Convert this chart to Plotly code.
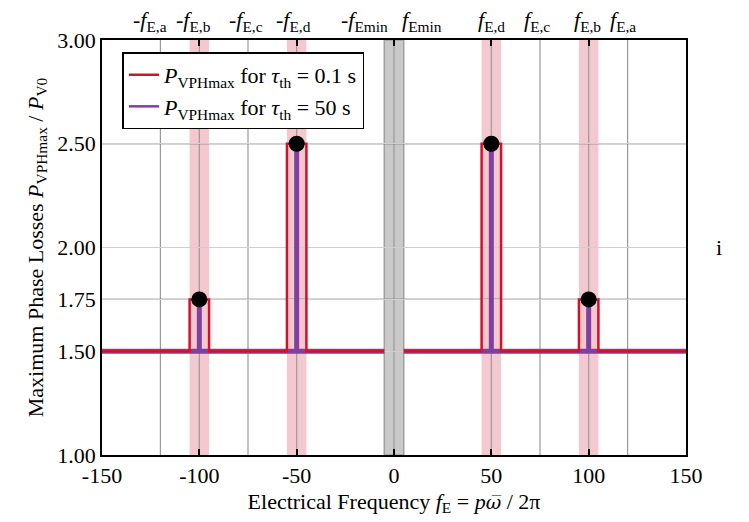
import plotly.graph_objects as go

# ---- data ----
peak_freqs = [-100, -50, 50, 100]          # electrical frequencies of the loss peaks
peak_values = [1.75, 2.50, 2.50, 1.75]     # normalised peak losses
base_level = 1.50                          # loss level away from the peaks
band_half = 5                              # half width of the critical bands
f_emin = 5                                 # minimum electrical frequency
x_min, x_max = -150, 150

x_tickvals = [-150, -100, -50, 0, 50, 100, 150]
x_ticktext = ["-150", "-100", "-50", "0", "50", "100", "150"]
y_tickvals = [1.00, 1.50, 1.75, 2.00, 2.50, 3.00]
y_ticktext = ["1.00", "1.50", "1.75", "2.00", "2.50", "3.00"]

top_freqs = [-120, -100, -75, -50, -5, 5, 50, 75, 100, 120]
top_labels = ["-<i>f</i><sub>E,a</sub>", "-<i>f</i><sub>E,b</sub>", "-<i>f</i><sub>E,c</sub>",
              "-<i>f</i><sub>E,d</sub>", "-<i>f</i><sub>Emin</sub>", "<i>f</i><sub>Emin</sub>",
              "<i>f</i><sub>E,d</sub>", "<i>f</i><sub>E,c</sub>", "<i>f</i><sub>E,b</sub>",
              "<i>f</i><sub>E,a</sub>"]
top_shift = [-10, -6, -2, -3, -20, 18, 0, -3, -1, -5]
grid_freqs = [-120, -100, -75, -50, 0, 50, 75, 100, 120]

FONT = "Liberation Serif"
RED = "#d4102c"
PURPLE = "#8040a0"
NAME_RED = "<i>P</i><sub>VPHmax</sub> for <i>τ</i><sub>th</sub> = 0.1 s"
NAME_PURPLE = "<i>P</i><sub>VPHmax</sub> for <i>τ</i><sub>th</sub> = 50 s"
OMEGA_BAR = "<span style=\"font-family:'DejaVu Serif';font-size:19px\"><i>ω\u0305</i></span>"


def build_curve(pulse_half):
    """Base level with a rectangular pulse of half width pulse_half at every peak."""
    xs, ys = [x_min], [base_level]
    for f, v in zip(peak_freqs, peak_values):
        if f > 0 and xs[-1] is not None and xs[-1] < 0:
            xs += [-f_emin, None, f_emin]
            ys += [base_level, None, base_level]
        xs += [f - pulse_half, f - pulse_half, f + pulse_half, f + pulse_half]
        ys += [base_level, v, v, base_level]
    xs.append(x_max)
    ys.append(base_level)
    return xs, ys


rx, ry = build_curve(band_half)
px, py = build_curve(0)

fig = go.Figure()
fig.add_trace(go.Scatter(x=px, y=py, mode="lines", line=dict(color=PURPLE, width=5),
                         showlegend=False))
fig.add_trace(go.Scatter(x=rx, y=ry, mode="lines", line=dict(color=RED, width=2.5),
                         showlegend=False))
fig.add_trace(go.Scatter(x=peak_freqs, y=peak_values, mode="markers",
                         marker=dict(color="black", size=16), showlegend=False))
# legend entries
fig.add_trace(go.Scatter(x=[None], y=[None], mode="lines", line=dict(color=RED, width=2.5),
                         name=NAME_RED))
fig.add_trace(go.Scatter(x=[None], y=[None], mode="lines", line=dict(color=PURPLE, width=2.5),
                         name=NAME_PURPLE))

shapes = []
# critical frequency bands
for f in peak_freqs:
    shapes.append(dict(type="rect", xref="x", yref="paper", x0=f - band_half, x1=f + band_half,
                       y0=0, y1=1, fillcolor="#f3c8cf", line=dict(width=0), layer="below"))
shapes.append(dict(type="rect", xref="x", yref="paper", x0=-f_emin, x1=f_emin, y0=0, y1=1,
                   fillcolor="#c9c9c9", line=dict(color="#a0a0a0", width=1.5), layer="below"))
# vertical reference lines
for f in grid_freqs:
    shapes.append(dict(type="line", xref="x", yref="paper", x0=f, x1=f, y0=0, y1=1,
                       line=dict(color="#9a9a9a", width=1.2), layer="between"))
# peak level lines
for v in sorted(set(peak_values)):
    shapes.append(dict(type="line", xref="paper", yref="y", x0=0, x1=1, y0=v, y1=v,
                       line=dict(color="#5a5a5a", width=1.2), layer="between"))

annotations = []
for f, lab, sh in zip(top_freqs, top_labels, top_shift):
    annotations.append(dict(x=f, y=1, xref="x", yref="paper", text=lab, showarrow=False,
                            xanchor="center", yanchor="bottom", xshift=sh, yshift=3,
                            font=dict(family=FONT, size=22, color="black")))
annotations.append(dict(x=1.065, y=0.50, xref="paper", yref="paper", text="i",
                        showarrow=False, font=dict(family=FONT, size=22, color="black")))

fig.update_layout(
    width=749, height=522,
    margin=dict(l=101.5, r=62.5, t=40, b=63),
    paper_bgcolor="white", plot_bgcolor="white",
    font=dict(family=FONT, size=22, color="black"),
    shapes=shapes, annotations=annotations,
    showlegend=True,
    legend=dict(x=0.035, y=0.97, xanchor="left", yanchor="top",
                bgcolor="white", bordercolor="black", borderwidth=1.5,
                font=dict(family=FONT, size=22), tracegroupgap=0, traceorder="normal"),
    xaxis=dict(range=[x_min, x_max], tickvals=x_tickvals, ticktext=x_ticktext,
               showgrid=False, zeroline=False, showline=True, linecolor="black", linewidth=1.5,
               mirror="ticks", ticks="inside", ticklen=6, tickcolor="black", tickwidth=1.5,
               title=dict(text="Electrical Frequency <i>f</i><sub>E</sub> = <i>p</i>" + OMEGA_BAR + " / 2π",
                          standoff=6, font=dict(size=22))),
    yaxis=dict(range=[1.0, 3.0], tickvals=y_tickvals, ticktext=y_ticktext,
               showgrid=True, gridcolor="#cfcfcf", gridwidth=1, zeroline=False,
               showline=True, linecolor="black", linewidth=1.5, mirror=True, ticks="",
               title=dict(text="Maximum Phase Losses <i>P</i><sub>VPHmax</sub> / <i>P</i><sub>V0</sub>",
                          standoff=8, font=dict(size=22))),
)

fig.write_html("out.html")
